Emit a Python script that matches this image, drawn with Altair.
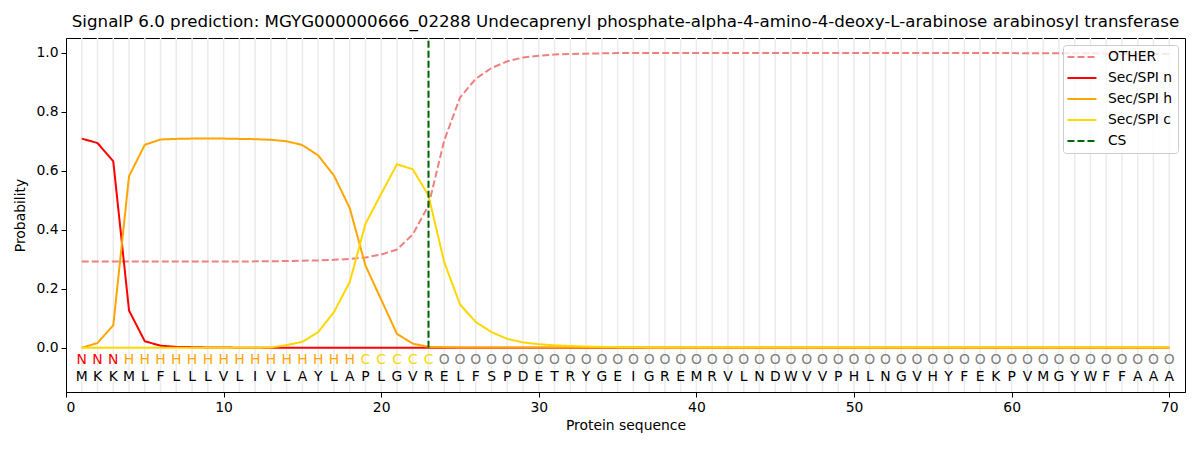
import altair as alt
import pandas as pd

residues = list("MKKMLFLLLVLIVLAYLAPLGVRELFSPDETRYGEIGREMRVLNDWVVPHLNGVHYFEKPVMGYWFFAAA")
regions = list("NNN" + "H" * 15 + "C" * 5 + "O" * 47)
positions = list(range(1, 71))

other = [0.292] * 11 + [0.293, 0.293, 0.294, 0.295, 0.296, 0.298, 0.301, 0.306, 0.316,
         0.333, 0.384, 0.482, 0.703, 0.848, 0.912, 0.948, 0.971, 0.984, 0.990,
         0.994, 0.996, 0.997, 0.998] + [0.999] * 26 + [0.998] * 5 + [0.997, 0.996, 0.996, 0.996, 0.996]
sec_n = [0.709, 0.694, 0.632, 0.126, 0.022, 0.007, 0.003, 0.002, 0.001, 0.001] + [0.0] * 60
sec_h = [0.0, 0.016, 0.076, 0.582, 0.688, 0.706, 0.708, 0.709, 0.709, 0.709,
         0.708, 0.707, 0.705, 0.700, 0.687, 0.652, 0.584, 0.474, 0.279, 0.163,
         0.047, 0.014, 0.003, 0.002] + [0.001] * 46
sec_c = [0.0] * 12 + [0.001, 0.009, 0.020, 0.053, 0.121, 0.222, 0.420, 0.522,
         0.622, 0.605, 0.516, 0.290, 0.147, 0.087, 0.053, 0.030, 0.018, 0.012,
         0.008, 0.006, 0.004, 0.003, 0.002, 0.002] + [0.001] * 34
cs_pos = [23]

series_names = ["OTHER", "Sec/SPI n", "Sec/SPI h", "Sec/SPI c", "CS"]
series_colors = ["#F08080", "#FF0000", "#FFA500", "#FFD700", "#006400"]
series_dash = [[7, 3], [1, 0], [1, 0], [1, 0], [7, 3]]
region_names = ["N", "H", "C", "O"]
region_colors = ["#FF0000", "#FFA500", "#FFD700", "#808080"]

title_text = ("SignalP 6.0 prediction: MGYG000000666_02288 Undecaprenyl phosphate-alpha-4-amino-"
              "4-deoxy-L-arabinose arabinosyl transferase")

FS = 13.9

rows = []
for name, vals in zip(series_names[:4], [other, sec_n, sec_h, sec_c]):
    for p, v in zip(positions, vals):
        rows.append({"pos": p, "prob": v, "series": name})
df = pd.DataFrame(rows)
seq_df = pd.DataFrame({"pos": positions, "aa": residues, "region": regions})
cs_df = pd.DataFrame({"pos": cs_pos, "series": ["CS"]})

xscale = alt.Scale(domain=[0, 71], nice=False, zero=False)
yscale = alt.Scale(domain=[-0.15, 1.05], nice=False, zero=False)
color = alt.Color("series:N", title=None,
                  scale=alt.Scale(domain=series_names, range=series_colors),
                  legend=alt.Legend(orient="top-right", offset=7, symbolType="M-2.9,0H2.9",
                                    symbolSize=100, symbolStrokeWidth=2, labelFontSize=FS,
                                    labelFont="DejaVu Sans", labelColor="black",
                                    fillColor="rgba(255,255,255,0.8)", strokeColor="#cccccc",
                                    cornerRadius=3, padding=5, rowPadding=6,
                                    symbolOffset=7, labelOffset=19))
dash = alt.StrokeDash("series:N", title=None,
                      scale=alt.Scale(domain=series_names, range=series_dash))

grid = alt.Chart(seq_df).mark_rule(color="#ebebeb", strokeWidth=1.5).encode(
    x=alt.X("pos:Q", scale=xscale))

xaxis = alt.Axis(values=list(range(0, 71, 10)), grid=False, title="Protein sequence",
                 format="d")
yaxis = alt.Axis(values=[0, 0.2, 0.4, 0.6, 0.8, 1.0], grid=False, title="Probability",
                 format=".1f")

layers = [grid]
for name in series_names[:4]:
    layers.append(
        alt.Chart(df).transform_filter(alt.datum.series == name)
        .mark_line(strokeWidth=2)
        .encode(x=alt.X("pos:Q", scale=xscale, axis=xaxis),
                y=alt.Y("prob:Q", scale=yscale, axis=yaxis),
                color=color, strokeDash=dash)
    )

cs = alt.Chart(cs_df).mark_rule(strokeWidth=2).encode(
    x=alt.X("pos:Q", scale=xscale),
    y=alt.datum(0), y2=alt.datum(1.05),
    color=color, strokeDash=dash)

region_text = alt.Chart(seq_df).mark_text(fontSize=FS, font="DejaVu Sans", baseline="middle").encode(
    x=alt.X("pos:Q", scale=xscale),
    y=alt.datum(-0.043),
    text="region:N",
    fill=alt.Fill("region:N", scale=alt.Scale(domain=region_names, range=region_colors), legend=None))

aa_text = alt.Chart(seq_df).mark_text(fontSize=FS, font="DejaVu Sans", baseline="middle", color="black").encode(
    x=alt.X("pos:Q", scale=xscale),
    y=alt.datum(-0.1),
    text="aa:N")

chart = alt.layer(*layers, cs, region_text, aa_text).properties(
    width=1119, height=354,
    title=alt.Title(text=title_text, fontSize=16.67, font="DejaVu Sans", fontWeight="normal",
                    color="black", offset=6),
    padding={"left": 58, "top": 30, "right": 7, "bottom": 50},
    autosize=alt.AutoSizeParams(type="none"),
).configure_view(stroke="black", strokeWidth=1).configure_axis(
    domainColor="black", tickColor="black", labelColor="black", titleColor="black",
    labelFont="DejaVu Sans", titleFont="DejaVu Sans", labelFontSize=FS, titleFontSize=FS,
    titleFontWeight="normal", tickSize=5, labelPadding=3
).configure_axisY(titlePadding=8).configure_axisX(titlePadding=5)

chart.save("out.html", embed_options={"renderer": "svg", "actions": False})
